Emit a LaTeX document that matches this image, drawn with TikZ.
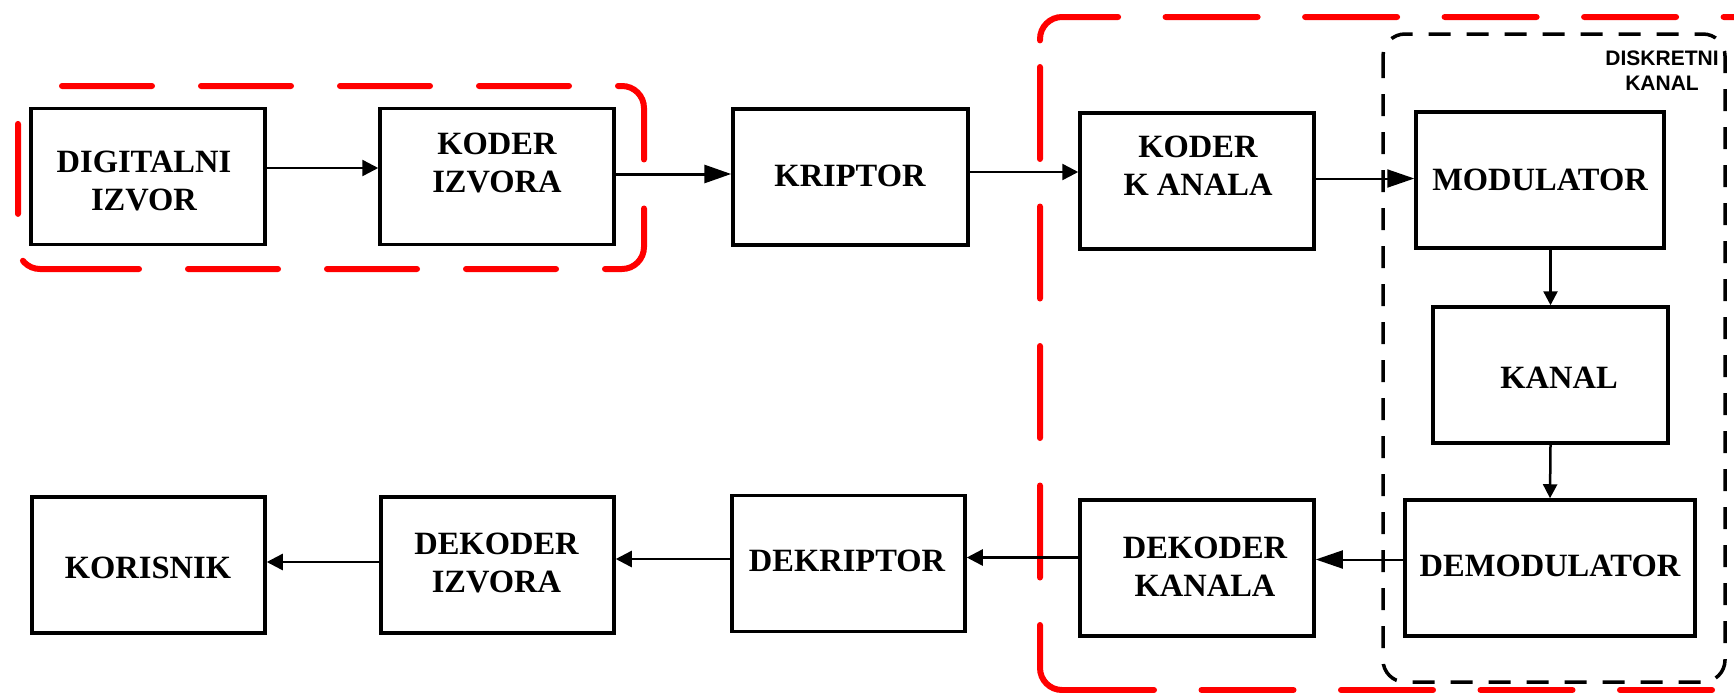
\documentclass[tikz,border=0pt]{standalone}
\usepackage{fontspec}
\setmainfont{Liberation Serif}
\newfontfamily\labelsans{Liberation Sans}
\usetikzlibrary{arrows.meta,calc}
\begin{document}
\begin{tikzpicture}[x=1pt,y=-1pt,
  blk/.style={draw=black,line width=3.5pt,inner sep=0pt,minimum height=136pt},
  txt/.style={font=\bfseries\fontsize{32.5}{38}\selectfont,align=center,inner sep=0pt},
  redline/.style={draw=red,line width=6pt,line cap=round,rounded corners=22pt},
  reddash/.style={redline,dash pattern=on 90pt off 49pt},
  redgrp/.style={redline,dash pattern=on 92pt off 47.5pt},
  blkdash/.style={draw=black,line width=3.5pt,dash pattern=on 22pt off 16pt,rounded corners=22pt},
  arr/.style={draw=black,line width=2.5pt,-{Triangle[length=16pt,width=16pt]}},
  bigarr/.style={draw=black,line width=2.5pt,-{Triangle[length=27pt,width=18pt]}},
  varr/.style={draw=black,line width=2.5pt,-{Triangle[length=14pt,width=14pt]}}
]
\useasboundingbox (0,0) rectangle (1734,694);
\clip (0,0) rectangle (1734,694);

% group outlines
\draw[reddash] (62,86) -- (644,86) -- (644,269) -- (134,269);
\draw[redline,dash pattern=on 113.6pt off 48pt on 90pt off 200pt] (134,269) -- (18,269) -- (18,86) -- (62,86);
\draw[redgrp,dash phase=119.9pt] (1040,60) -- (1040,17) -- (1800,17);
\draw[redgrp,dash phase=111.5pt] (1040,39) -- (1040,690) -- (1062,690);
\draw[redgrp] (1062,690) -- (1800,690);
\draw[blkdash] (1383,34) rectangle (1725,682);
\node[font=\labelsans\bfseries\fontsize{21}{25}\selectfont,align=center,inner sep=0pt,anchor=base] (dk) at (1662,90) {DISKRETNI\\KANAL};

% boxes
\node[blk,minimum width=234pt] (dig) at (148,176.5) {};
\node[blk,minimum width=234pt] (kizv) at (497,176.5) {};
\node[blk,minimum width=235pt] (krip) at (850.5,177) {};
\node[blk,minimum width=234pt] (kkan) at (1197,181) {};
\node[blk,minimum width=248pt] (mod) at (1540,180) {};
\node[blk,minimum width=235pt] (kan) at (1550.5,375) {};
\node[blk,minimum width=290pt] (demod) at (1550,568) {};
\node[blk,minimum width=234pt] (dkkan) at (1197,568) {};
\node[blk,minimum width=233pt] (dkrip) at (848.5,563.5) {};
\node[blk,minimum width=233pt] (dkizv) at (497.5,565) {};
\node[blk,minimum width=233pt] (kor) at (148.5,565) {};

% texts
\node[txt] (digt) at (144,181) {DIGITALNI\\IZVOR};
\node[txt] (kizvt) at (497,163) {KODER\\IZVORA};
\node[txt] (kript) at (850,176) {KRIPTOR};
\node[txt] (kkant) at (1198,166) {KODER\\K ANALA};
\node[txt] (modt) at (1540,179.5) {MODULATOR};
\node[txt] (kant) at (1559,378) {KANAL};
\node[txt] (demodt) at (1550,566) {DEMODULATOR};
\node[txt] (dkkant) at (1205,567) {DEKODER\\KANALA};
\node[txt] (dkript) at (847,561) {DEKRIPTOR};
\node[txt] (dkizvt) at (496.5,562.5) {DEKODER\\IZVORA};
\node[txt] (kort) at (148,568) {KORISNIK};

% connectors
\draw[arr] ([yshift=8.5pt]dig.east) -- ([yshift=8.5pt]dig.east -| kizv.west);
\draw[bigarr,line width=3pt] ([yshift=2.5pt]kizv.east) -- ([yshift=2.5pt]kizv.east -| krip.west);
\draw[arr] ([yshift=5pt]krip.east) -- ([yshift=5pt]krip.east -| kkan.west);
\draw[bigarr,line width=2pt] ([yshift=2.5pt]kkan.east) -- ([yshift=2.5pt]kkan.east -| mod.west);
\draw[varr] (kan.north |- mod.south) -- (kan.north);
\draw[varr] (kan.south) -- (demod.north);
\draw[bigarr,line width=2pt] ([yshift=8.5pt]demod.west) -- ([yshift=8.5pt]demod.west -| dkkan.east);
\draw[arr] ([yshift=10.5pt]dkkan.west) -- ([yshift=10.5pt]dkkan.west -| dkrip.east);
\draw[arr] ([yshift=4.5pt]dkrip.west) -- ([yshift=4.5pt]dkrip.west -| dkizv.east);
\draw[arr] ([yshift=3pt]dkizv.west) -- ([yshift=3pt]dkizv.west -| kor.east);
\end{tikzpicture}
\end{document}
